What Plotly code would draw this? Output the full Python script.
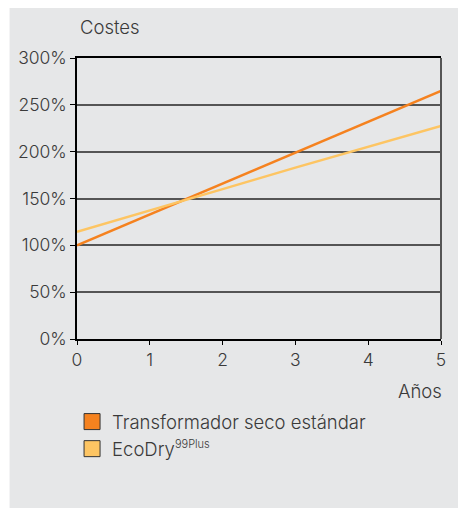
import plotly.graph_objects as go

years = [0, 1, 2, 3, 4, 5]
standard = [100, 133, 166, 199, 232, 265]
ecodry = [114.5, 137, 160, 183, 205, 227.5]
y_ticks = [0, 50, 100, 150, 200, 250, 300]
y_labels = ["0%", "50%", "100%", "150%", "200%", "250%", "300%"]
names = ["Transformador seco estándar",
         "EcoDry<sup><span style='font-size:11px'>99Plus</span></sup>"]

ORANGE = "#f5821f"
LIGHT = "#fdc563"
BG = "#e6e7e8"
TXT = "#3a3a3a"
FONT = "Inter, Liberation Sans, Arial, sans-serif"
W = 300

fig = go.Figure()
fig.add_trace(go.Scatter(x=years, y=standard, mode="lines",
                         line=dict(color=ORANGE, width=2.5), showlegend=False))
fig.add_trace(go.Scatter(x=years, y=ecodry, mode="lines",
                         line=dict(color=LIGHT, width=2.5), showlegend=False))
# legend entries (square swatches)
for nm, col, grp in [(names[0], ORANGE, "a"), (names[1], LIGHT, "b")]:
    fig.add_trace(go.Scatter(x=[None], y=[None], mode="markers", name=nm,
                             legendgroup=grp,
                             marker=dict(symbol="square", size=16, color=col,
                                         line=dict(color="#333333", width=1))))

fig.update_layout(
    width=458, height=508,
    margin=dict(l=77, r=12, t=58, b=169),
    paper_bgcolor="white",
    plot_bgcolor=BG,
    font=dict(family=FONT, size=17.5, color=TXT, weight=W),
    showlegend=True,
    legend=dict(x=-0.0136, y=-0.228, xanchor="left", yanchor="top",
                bgcolor="rgba(0,0,0,0)", font=dict(size=18.5, color=TXT, weight=W),
                tracegroupgap=12, traceorder="normal"),
    xaxis=dict(range=[0, 5], tickvals=years, showgrid=False, zeroline=False,
               showline=True, linecolor="black", linewidth=1.5, mirror=True,
               ticks="outside", ticklen=4, tickcolor="black", tickwidth=1,
               tickfont=dict(size=17.5, color=TXT, weight=W), fixedrange=True),
    yaxis=dict(range=[0, 300], tickvals=y_ticks, ticktext=y_labels,
               showgrid=True, gridcolor="#555555", gridwidth=1.5, zeroline=False,
               showline=True, linecolor="black", linewidth=1.5,
               ticks="outside", ticklen=5, tickcolor="black", tickwidth=1,
               tickfont=dict(size=17.5, color=TXT, weight=W), fixedrange=True),
    shapes=[
        dict(type="rect", xref="paper", yref="paper", x0=-0.1853, x1=1.1,
             y0=-0.8, y1=1.178, fillcolor=BG, line=dict(width=0), layer="below"),
        dict(type="line", xref="paper", yref="paper", x0=1, x1=1, y0=0, y1=1,
             line=dict(color="#555555", width=2)),
    ],
    annotations=[
        dict(text="Costes", xref="paper", yref="paper", x=0, y=1.110,
             xanchor="left", yanchor="middle", xshift=1, showarrow=False,
             font=dict(size=18.5, color=TXT, weight=W)),
        dict(text="Años", xref="paper", yref="paper", x=1.0, y=-0.184,
             xanchor="right", yanchor="middle", xshift=3, showarrow=False,
             font=dict(size=18.5, color=TXT, weight=W)),
    ],
)

fig.write_html("out.html")
